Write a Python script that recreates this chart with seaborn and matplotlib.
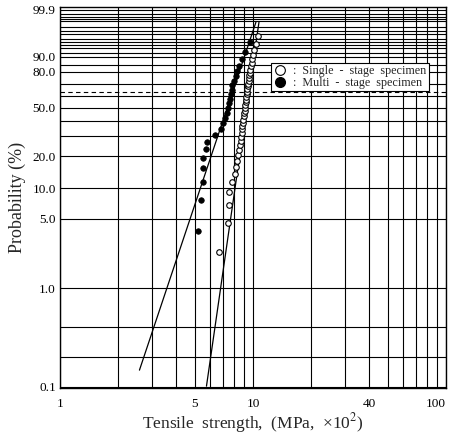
import numpy as np
import pandas as pd
import matplotlib
matplotlib.use("Agg")
import matplotlib.pyplot as plt
from matplotlib.ticker import FixedLocator, FixedFormatter, NullFormatter
from matplotlib.lines import Line2D
import seaborn as sns

# ---------------- data ----------------
single_strength = [6.69, 7.39, 7.48, 7.54, 7.76, 8.07, 8.16, 8.29, 8.39, 8.49, 8.56,
                   8.64, 8.69, 8.74, 8.78, 8.82, 8.88, 8.92, 8.96, 8.99, 9.04,
                   9.08, 9.11, 9.16, 9.19, 9.22, 9.27, 9.30, 9.33, 9.38, 9.42,
                   9.48, 9.53, 9.59, 9.65, 9.70, 9.78, 9.85, 9.92, 10.0, 10.14,
                   10.34, 10.61]
single_prob = [2.3, 4.5, 6.8, 9.1, 11.4, 13.6, 15.9, 18.2, 20.5, 22.7, 25.0,
               27.3, 29.5, 31.8, 34.1, 36.4, 38.6, 40.9, 43.2, 45.5, 47.7,
               50.0, 52.3, 54.5, 56.8, 59.1, 61.4, 63.6, 65.9, 68.2, 70.5,
               72.7, 75.0, 77.3, 79.5, 81.8, 84.1, 86.4, 88.6, 90.9, 93.2,
               95.5, 97.7]
multi_strength = [5.21, 5.35, 5.48, 5.48, 5.53, 5.74, 5.80, 6.36, 6.80, 6.99,
                  7.16, 7.29, 7.42, 7.51, 7.60, 7.69, 7.74, 7.83, 7.97, 8.12,
                  8.26, 8.51, 8.77, 9.09, 9.65]
multi_prob = [3.8, 7.7, 11.5, 15.4, 19.2, 23.1, 26.9, 30.8, 34.6, 38.5,
              42.3, 46.2, 50.0, 53.8, 57.7, 61.5, 65.4, 69.2, 73.1, 76.9,
              80.8, 84.6, 88.5, 92.3, 96.2]

single_line_x = [5.74, 10.74]
single_line_p = [0.101, 99.44]
multi_line_x = [2.58, 10.36]
multi_line_p = [0.147, 99.44]

x_tick_vals = [1, 5, 10, 40, 100]
x_tick_labels = ["1", "5", "10", "40", "100"]
x_minor_vals = [2, 3, 4, 6, 7, 8, 9, 20, 30, 50, 60, 70, 80, 90]
y_tick_vals = [0.1, 1.0, 5.0, 10.0, 20.0, 50.0, 80.0, 90.0, 99.9]
y_tick_labels = ["0.1", "1.0", "5.0", "10.0", "20.0", "50.0", "80.0", "90.0", "99.9"]
y_minor_vals = [0.2, 0.4, 30, 40, 60, 70, 85, 92, 94, 95, 96, 97, 98, 98.5,
                99, 99.5, 99.6, 99.7, 99.8]
char_life_prob = 63.2

labels = ["Single  -  stage  specimen", "Multi  -  stage  specimen"]

# ---------------- style ----------------
sns.set_theme(style="white")
plt.rcParams["font.family"] = ["Liberation Serif", "DejaVu Serif"]
plt.rcParams["mathtext.fontset"] = "stix"

fig = plt.figure(figsize=(4.51, 4.37), dpi=100)
ax = fig.add_axes([60 / 451, 1 - 388 / 437, 386 / 451, 381 / 437])


def fwd(p):
    p = np.clip(np.asarray(p, dtype=float), 1e-6, 100 - 1e-6)
    return np.log(-np.log(1 - p / 100.0))


def inv(y):
    return 100.0 * (1 - np.exp(-np.exp(np.asarray(y, dtype=float))))


ax.set_xscale("log")
ax.set_yscale("function", functions=(fwd, inv))

df_s = pd.DataFrame({"x": single_strength, "p": single_prob})
df_m = pd.DataFrame({"x": multi_strength, "p": multi_prob})
df_ls = pd.DataFrame({"x": single_line_x, "p": single_line_p})
df_lm = pd.DataFrame({"x": multi_line_x, "p": multi_line_p})

sns.lineplot(data=df_ls, x="x", y="p", ax=ax, color="black", lw=0.9,
             estimator=None, sort=False, zorder=4)
sns.lineplot(data=df_lm, x="x", y="p", ax=ax, color="black", lw=0.9,
             estimator=None, sort=False, zorder=4)
sns.scatterplot(data=df_s, x="x", y="p", ax=ax, marker="o", s=16,
                facecolor="white", edgecolor="black", linewidth=0.8, zorder=5)
sns.scatterplot(data=df_m, x="x", y="p", ax=ax, marker="o", s=16,
                color="black", edgecolor="black", linewidth=0.5, zorder=6)

ax.set_xlim(1, 100)
ax.set_ylim(0.0967, 99.938)

ax.xaxis.set_major_locator(FixedLocator(x_tick_vals))
ax.xaxis.set_major_formatter(FixedFormatter(x_tick_labels))
ax.xaxis.set_minor_locator(FixedLocator(x_minor_vals))
ax.xaxis.set_minor_formatter(NullFormatter())
ax.yaxis.set_major_locator(FixedLocator(y_tick_vals))
ax.yaxis.set_major_formatter(FixedFormatter(y_tick_labels))
ax.yaxis.set_minor_locator(FixedLocator(y_minor_vals))
ax.yaxis.set_minor_formatter(NullFormatter())

ax.grid(True, which="both", color="black", lw=0.8)
ax.tick_params(which="both", length=0, labelsize=9.5, colors="black")
ax.tick_params(axis="x", pad=7)
ax.tick_params(axis="y", pad=3)
ax.axhline(char_life_prob, color="black", lw=0.8, ls=(0, (4, 3)), zorder=2)

for s in ax.spines.values():
    s.set_color("black")
    s.set_linewidth(1.0)

ax.set_xlabel("Tensile  strength,  (MPa,  ×10$^2$)", fontsize=12.5, labelpad=1)
ax.set_ylabel("Probability (%)", fontsize=13, labelpad=5)

for lbl in ax.get_xticklabels():
    if lbl.get_text() == "100":
        lbl.set_horizontalalignment("right")

handles = [
    Line2D([], [], ls="none", marker="o", markersize=7, markerfacecolor="white",
           markeredgecolor="black", markeredgewidth=0.8),
    Line2D([], [], ls="none", marker="o", markersize=7, markerfacecolor="black",
           markeredgecolor="black"),
]
leg = ax.legend(handles, [":  " + l for l in labels], loc="upper left",
                bbox_to_anchor=(0.547, 0.853), fontsize=8.7, frameon=True,
                fancybox=False, framealpha=1, edgecolor="black",
                handlelength=1.2, handletextpad=0.5, borderpad=0.15,
                labelspacing=0.0, borderaxespad=0)
leg.get_frame().set_linewidth(0.8)
leg.set_zorder(10)

fig.savefig("out.png", dpi=100)
